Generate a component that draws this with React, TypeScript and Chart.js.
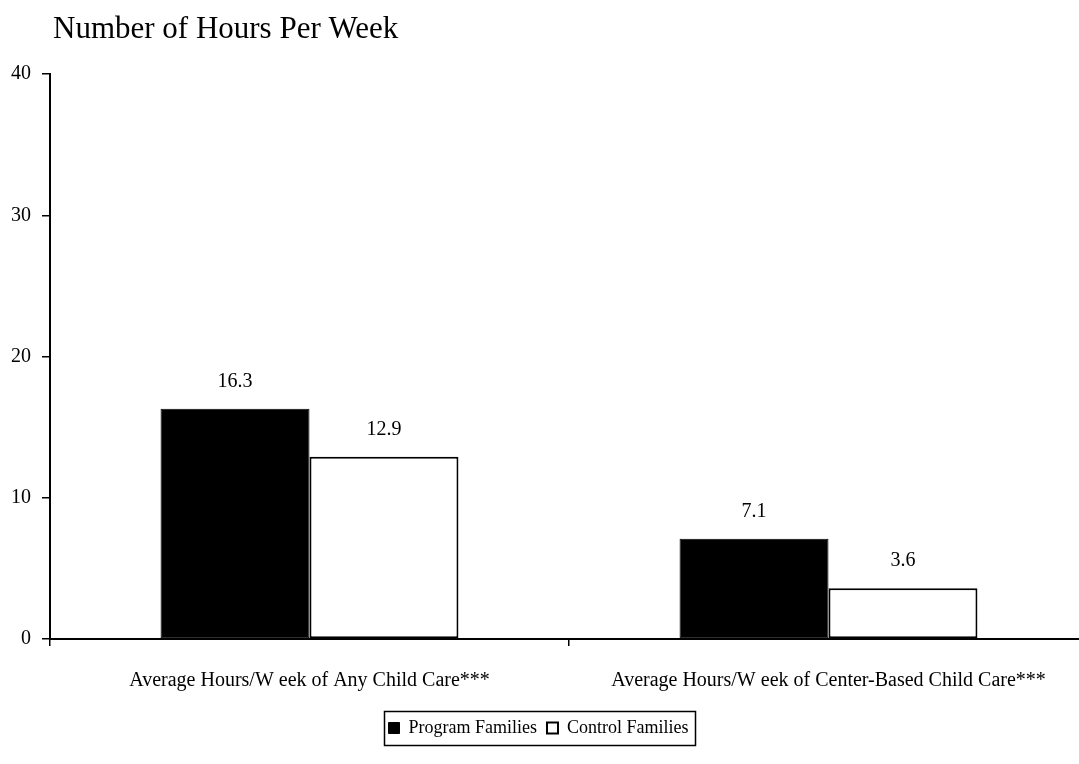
import React, { useEffect, useRef } from 'react';
import { Chart, registerables } from 'chart.js';

Chart.register(...registerables);

const chartTitle = 'Number of Hours Per Week';
const categories = [
  'Average Hours/W eek of Any Child Care***',
  'Average Hours/W eek of Center-Based Child Care***',
];
const seriesNames = ['Program Families', 'Control Families'];
const programValues = [16.3, 7.1];
const controlValues = [12.9, 3.6];
const yMin = 0;
const yMax = 40;
const yStep = 10;

const FONT = '"Liberation Serif", "Times New Roman", serif';

const titlePlugin = {
  id: 'leftTitle',
  afterDraw(chart: any) {
    const ctx = chart.ctx;
    ctx.save();
    ctx.fillStyle = '#000';
    ctx.font = `31px ${FONT}`;
    ctx.textAlign = 'left';
    ctx.textBaseline = 'alphabetic';
    ctx.fillText(chartTitle, 53, 38);
    ctx.restore();
  },
};

const valueLabelPlugin = {
  id: 'valueLabels',
  afterDatasetsDraw(chart: any) {
    const ctx = chart.ctx;
    ctx.save();
    ctx.fillStyle = '#000';
    ctx.font = `20px ${FONT}`;
    ctx.textAlign = 'center';
    ctx.textBaseline = 'middle';
    chart.data.datasets.forEach((ds: any, di: number) => {
      const meta = chart.getDatasetMeta(di);
      meta.data.forEach((bar: any, i: number) => {
        ctx.fillText(Number(ds.data[i]).toFixed(1), bar.x, bar.y - 27);
      });
    });
    ctx.restore();
  },
};

const legendBorderPlugin = {
  id: 'legendBorder',
  afterDraw(chart: any) {
    const lg = chart.legend;
    if (!lg || !lg.legendHitBoxes || !lg.legendHitBoxes.length) return;
    const boxes = lg.legendHitBoxes;
    const left = Math.min(...boxes.map((b: any) => b.left)) - 5;
    const right = Math.max(...boxes.map((b: any) => b.left + b.width)) + 6;
    const top = Math.min(...boxes.map((b: any) => b.top)) - 8;
    const bottom = Math.max(...boxes.map((b: any) => b.top + b.height)) + 8;
    const ctx = chart.ctx;
    ctx.save();
    ctx.strokeStyle = '#000';
    ctx.lineWidth = 1.5;
    ctx.strokeRect(Math.round(left) + 0.5, Math.round(top) + 0.5, Math.round(right - left), Math.round(bottom - top));
    ctx.restore();
  },
};

// extend the category axis past the right edge of the canvas, like the source figure
const extendXPlugin = {
  id: 'extendX',
  afterLayout(chart: any) {
    const s = chart.scales.x;
    const w = (s.right - s.left) + 11;
    s.right = s.left + w;
    s.width = w;
    s.configure();
  },
};

export default function App() {
  const canvasRef = useRef<HTMLCanvasElement | null>(null);

  useEffect(() => {
    if (!canvasRef.current) return;
    const chart = new Chart(canvasRef.current, {
      type: 'bar',
      data: {
        labels: categories,
        datasets: [
          {
            label: seriesNames[0],
            data: programValues,
            backgroundColor: '#000',
            borderColor: '#000',
            borderWidth: 1,
            borderSkipped: false,
          },
          {
            label: seriesNames[1],
            data: controlValues,
            backgroundColor: '#fff',
            borderColor: '#000',
            borderWidth: 2,
            borderSkipped: false,
          },
        ],
      },
      options: {
        animation: false,
        responsive: false,
        maintainAspectRatio: false,
        layout: { padding: { top: 74, left: 0, right: 2, bottom: 17 } },
        datasets: {
          bar: { barPercentage: 1, categoryPercentage: 0.574 },
        },
        plugins: {
          title: { display: false },
          tooltip: { enabled: false },
          legend: {
            display: true,
            position: 'bottom',
            labels: {
              color: '#000',
              font: { family: FONT, size: 18 },
              boxWidth: 11,
              boxHeight: 11,
              padding: 10,
            },
          },
        },
        scales: {
          x: {
            offset: true,
            grid: {
              display: true,
              offset: true,
              drawOnChartArea: false,
              drawTicks: true,
              tickLength: 7,
              color: '#000',
              lineWidth: 1.5,
            },
            border: { display: true, color: '#000', width: 2 },
            ticks: {
              color: '#000',
              font: { family: FONT, size: 20 },
              padding: 23,
              maxRotation: 0,
              autoSkip: false,
            },
            afterFit(scale: any) {
              scale.height = 70;
            },
          },
          y: {
            min: yMin,
            max: yMax,
            grid: {
              display: true,
              drawOnChartArea: false,
              drawTicks: true,
              tickLength: 8,
              color: '#000',
              lineWidth: 1.5,
            },
            border: { display: true, color: '#000', width: 2 },
            ticks: {
              stepSize: yStep,
              color: '#000',
              font: { family: FONT, size: 20 },
              padding: 11,
            },
            afterFit(scale: any) {
              scale.width = 50;
            },
          },
        },
      },
      plugins: [titlePlugin, valueLabelPlugin, legendBorderPlugin, extendXPlugin],
    });
    return () => chart.destroy();
  }, []);

  return (
    <div style={{ position: 'fixed', left: 0, top: 0, width: 1079, height: 764, overflow: 'hidden', background: '#fff' }}>
      <canvas ref={canvasRef} width={1079} height={764} style={{ display: 'block', width: 1079, height: 764 }} />
    </div>
  );
}
